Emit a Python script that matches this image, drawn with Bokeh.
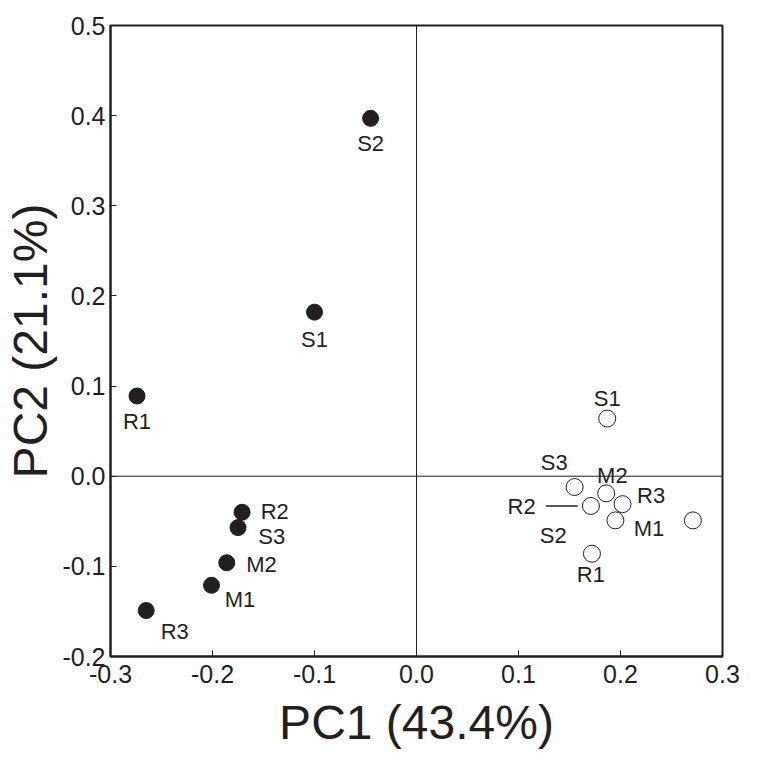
from bokeh.plotting import figure
from bokeh.models import Range1d, FixedTicker, Span, ColumnDataSource
from bokeh.core.properties import value
from bokeh.embed import file_html
from bokeh.resources import INLINE

# ---- data ----
filled_names = ["S2", "S1", "R1", "R2", "S3", "M2", "M1", "R3"]
filled_pc1 = [-0.045, -0.100, -0.274, -0.171, -0.175, -0.186, -0.201, -0.265]
filled_pc2 = [0.397, 0.182, 0.089, -0.040, -0.057, -0.096, -0.121, -0.149]
filled_label_x = [-0.045, -0.100, -0.274, -0.139, -0.142, -0.152, -0.173, -0.237]
filled_label_y = [0.369, 0.152, 0.061, -0.039, -0.067, -0.098, -0.137, -0.172]

open_pc1 = [0.187, 0.155, 0.186, 0.171, 0.202, 0.195, 0.271, 0.172]
open_pc2 = [0.064, -0.012, -0.019, -0.033, -0.031, -0.049, -0.049, -0.086]
open_names = ["S1", "S3", "M2", "R3", "R2", "M1", "S2", "R1"]
open_label_x = [0.187, 0.135, 0.192, 0.230, 0.103, 0.228, 0.134, 0.171]
open_label_y = [0.086, 0.015, 0.001, -0.021, -0.034, -0.058, -0.066, -0.109]

leader_x0 = [0.127]
leader_x1 = [0.158]
leader_y = [-0.033]

x_ticks = [-0.3, -0.2, -0.1, 0.0, 0.1, 0.2, 0.3]
x_tick_labels = ["-0.3", "-0.2", "-0.1", "0.0", "0.1", "0.2", "0.3"]
y_ticks = [-0.2, -0.1, 0.0, 0.1, 0.2, 0.3, 0.4, 0.5]
y_tick_labels = ["-0.2", "-0.1", "0.0", "0.1", "0.2", "0.3", "0.4", "0.5"]

x_title = "PC1 (43.4%)"
y_title = "PC2 (21.1%)"

INK = "#231f20"
FONT = "Liberation Sans"

p = figure(width=757, height=767,
           x_range=Range1d(-0.3, 0.3), y_range=Range1d(-0.2, 0.5),
           output_backend="svg", toolbar_location=None,
           min_border_left=110, min_border_right=35,
           min_border_top=25, min_border_bottom=111)

p.xgrid.visible = False
p.ygrid.visible = False
p.outline_line_color = INK
p.outline_line_width = 2
p.background_fill_color = "white"
p.border_fill_color = "white"

p.add_layout(Span(location=0, dimension="height", line_color=INK, line_width=1))
p.add_layout(Span(location=0, dimension="width", line_color=INK, line_width=1))

for ax, ticks, labels in ((p.xaxis[0], x_ticks, x_tick_labels), (p.yaxis[0], y_ticks, y_tick_labels)):
    ax.ticker = FixedTicker(ticks=ticks)
    ax.major_label_overrides = {t: l for t, l in zip(ticks, labels)}
    ax.major_tick_in = 6
    ax.major_tick_out = 0
    ax.minor_tick_line_color = None
    ax.axis_line_color = INK
    ax.axis_line_width = 2
    ax.major_tick_line_color = INK
    ax.major_tick_line_width = 1
    ax.major_label_text_font = FONT
    ax.major_label_text_font_size = "25px"
    ax.major_label_text_color = INK
    ax.axis_label_text_font = FONT
    ax.axis_label_text_font_size = "48px"
    ax.axis_label_text_font_style = "normal"
    ax.axis_label_text_color = INK

p.xaxis.axis_label = x_title
p.yaxis.axis_label = y_title
p.xaxis.major_label_standoff = 8
p.yaxis.major_label_standoff = 5
p.xaxis.axis_label_standoff = 10
p.yaxis.axis_label_standoff = 2

p.segment(x0=leader_x0, y0=leader_y, x1=leader_x1, y1=leader_y, line_color=INK, line_width=1.5)

p.scatter(x=filled_pc1, y=filled_pc2, size=16, fill_color=INK, line_color=INK)
p.scatter(x=open_pc1, y=open_pc2, size=17, fill_color="white", line_color=INK, line_width=1)

src_f = ColumnDataSource(dict(x=filled_label_x, y=filled_label_y, t=filled_names))
src_o = ColumnDataSource(dict(x=open_label_x, y=open_label_y, t=open_names))
for src in (src_f, src_o):
    p.text(x="x", y="y", text="t", source=src, text_align="center", text_baseline="middle",
           text_font=value(FONT), text_font_size="22px", text_color=INK)

open("out.html", "w").write(file_html(p, INLINE))
